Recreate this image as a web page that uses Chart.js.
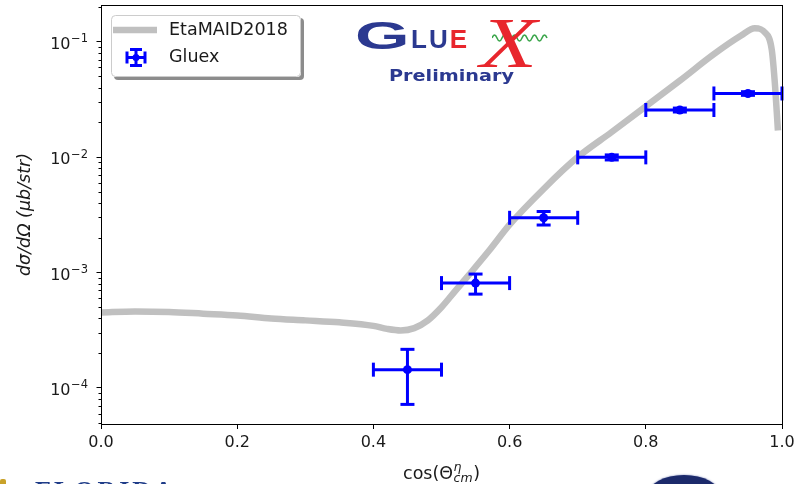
<!DOCTYPE html>
<html>
<head>
<meta charset="utf-8">
<script src="https://cdn.jsdelivr.net/npm/chart.js@4.4.1/dist/chart.umd.min.js"></script>
<style>
  html, body { margin: 0; padding: 0; background: #fff; overflow: hidden; }
  #wrap { position: relative; width: 795px; height: 484px; overflow: hidden; background: #fff; }
  #c { position: absolute; left: 0; top: 0; }
  .abs { position: absolute; white-space: nowrap; line-height: 1; }
  #lg-G { left: 355px; top: 14px; font: bold 39px "Liberation Sans", sans-serif; color: #2b3990; transform: scaleX(1.8); transform-origin: left top; }
  #lg-LUE { left: 411px; top: 24px; font: bold 26px "Liberation Sans", sans-serif; letter-spacing: 2px; }
  #lg-X { left: 480px; top: 2px; font: italic 72px "Liberation Serif", serif; color: #e8262d; transform: scaleX(1.3); transform-origin: left top; }
  #lg-wave { left: 492px; top: 32px; }
  #lg-pre { left: 389px; top: 66px; font: bold 16px "DejaVu Sans", sans-serif; color: #2b3990; transform: scaleX(1.2); transform-origin: left top; }
  #fsu { left: 35px; top: 476px; font: bold 26px "Liberation Serif", serif; color: #1f3c88; letter-spacing: 3px; }
  #fsu-gold { left: 0; top: 479px; width: 6px; height: 8px; background: #c9a22a; border-radius: 2px; }
  #seal { left: 648px; top: 475px; width: 72px; height: 40px; border-radius: 50%; background: #1c2a6b; box-shadow: 0 0 2px #6c78b0; }
</style>
</head>
<body>
<div id="wrap">
  <canvas id="c" width="795" height="484"></canvas>
  <div class="abs" id="lg-G">G</div>
  <div class="abs" id="lg-LUE"><span style="color:#2b3990">L</span><span style="color:#2b3990">U</span><span style="color:#e8262d">E</span></div>
  <svg class="abs" id="lg-wave" width="60" height="12" viewBox="0 0 60 12">
    <path d="M0 6 Q2.5 0 5 6 T10 6 T15 6 T20 6 T25 6 T30 6 T35 6 T40 6 T45 6 T50 6 T55 6" fill="none" stroke="#3aa54a" stroke-width="1.6"/>
  </svg>
  <div class="abs" id="lg-X">X</div>
  <div class="abs" id="lg-pre">Preliminary</div>
  <div class="abs" id="fsu-gold"></div>
  <div class="abs" id="fsu">FLORIDA</div>
  <div class="abs" id="seal"></div>
</div>
<script>
// EtaMAID2018 model curve: cos(theta) and dsigma/dOmega (ub/sr)
const modelCos   = [0.00, 0.05, 0.10, 0.15, 0.20, 0.25, 0.30, 0.35, 0.40, 0.42, 0.44, 0.46, 0.48, 0.50, 0.52, 0.54, 0.57, 0.60, 0.65, 0.70, 0.75, 0.80, 0.85, 0.90, 0.94, 0.96, 0.975, 0.985, 0.99, 0.994];
const modelXsec  = [4.5e-4, 4.6e-4, 4.55e-4, 4.4e-4, 4.25e-4, 4.0e-4, 3.85e-4, 3.7e-4, 3.45e-4, 3.25e-4, 3.15e-4, 3.3e-4, 3.85e-4, 5.0e-4, 6.9e-4, 9.5e-4, 1.55e-3, 2.6e-3, 5.3e-3, 1.0e-2, 1.65e-2, 2.75e-2, 4.6e-2, 7.8e-2, 0.113, 0.131, 0.12, 0.085, 0.04, 0.017];

// GlueX measurement: bin centres, bin half widths, cross sections and errors
const binCenters   = [0.45, 0.55, 0.65, 0.75, 0.85, 0.95];
const binHalfWidth = [0.05, 0.05, 0.05, 0.05, 0.05, 0.05];
const gluexXsec    = [1.44e-4, 8.1e-4, 2.98e-3, 9.95e-3, 2.56e-2, 3.56e-2];
const gluexErr     = [7.2e-5, 1.6e-4, 4.0e-4, 5.0e-4, 1.0e-3, 1.3e-3];

// axis ticks
const xTickValues = [0.0, 0.2, 0.4, 0.6, 0.8, 1.0];
const yDecades    = [-4, -3, -2, -1];

const seriesLabels = ['Gluex', 'EtaMAID2018'];

const BLUE = '#0000ff';
const SILVER = '#c0c0c0';
const TEXT = '#1a1a1a';

Chart.defaults.font.family = '"DejaVu Sans", sans-serif';
Chart.defaults.color = TEXT;

function line(ctx, x0, y0, x1, y1) {
  ctx.beginPath(); ctx.moveTo(x0, y0); ctx.lineTo(x1, y1); ctx.stroke();
}
function roundRect(ctx, x, y, w, h, r) {
  ctx.beginPath();
  ctx.moveTo(x + r, y);
  ctx.lineTo(x + w - r, y); ctx.quadraticCurveTo(x + w, y, x + w, y + r);
  ctx.lineTo(x + w, y + h - r); ctx.quadraticCurveTo(x + w, y + h, x + w - r, y + h);
  ctx.lineTo(x + r, y + h); ctx.quadraticCurveTo(x, y + h, x, y + h - r);
  ctx.lineTo(x, y + r); ctx.quadraticCurveTo(x, y, x + r, y);
  ctx.closePath();
}
function errorGlyph(ctx, cx, cy) {
  ctx.save();
  ctx.strokeStyle = BLUE; ctx.fillStyle = BLUE; ctx.lineWidth = 3;
  line(ctx, cx - 9, cy, cx + 9, cy);
  line(ctx, cx, cy - 8, cx, cy + 8);
  line(ctx, cx - 9, cy - 6, cx - 9, cy + 6);
  line(ctx, cx + 9, cy - 6, cx + 9, cy + 6);
  line(ctx, cx - 6, cy - 8, cx + 6, cy - 8);
  line(ctx, cx - 6, cy + 8, cx + 6, cy + 8);
  ctx.beginPath(); ctx.arc(cx, cy, 3.5, 0, Math.PI * 2); ctx.fill();
  ctx.restore();
}

// error bars drawn right after the model curve so that they sit above it, below the markers
const errorBars = {
  id: 'errorBars',
  afterDatasetDraw(chart, args) {
    if (args.index !== 1) return;
    const { ctx, scales: { x, y } } = chart;
    ctx.save();
    ctx.strokeStyle = BLUE;
    ctx.lineWidth = 3;
    const cap = 7;
    binCenters.forEach((c, i) => {
      const px = x.getPixelForValue(c);
      const x0 = x.getPixelForValue(c - binHalfWidth[i]);
      const x1 = x.getPixelForValue(c + binHalfWidth[i]);
      const py = y.getPixelForValue(gluexXsec[i]);
      const y0 = y.getPixelForValue(gluexXsec[i] + gluexErr[i]);
      const y1 = y.getPixelForValue(gluexXsec[i] - gluexErr[i]);
      line(ctx, x0, py, x1, py);
      line(ctx, px, y0, px, y1);
      line(ctx, x0, py - cap, x0, py + cap);
      line(ctx, x1, py - cap, x1, py + cap);
      line(ctx, px - cap, y0, px + cap, y0);
      line(ctx, px - cap, y1, px + cap, y1);
    });
    ctx.restore();
  }
};

// frame, minor ticks, log tick labels, x title and legend
const decorations = {
  id: 'decorations',
  afterDraw(chart) {
    const { ctx, chartArea: a, scales: { x, y } } = chart;
    ctx.save();
    // axes frame
    ctx.strokeStyle = '#000';
    ctx.lineWidth = 1;
    ctx.strokeRect(Math.round(a.left) + 0.5, Math.round(a.top) + 0.5, Math.round(a.right - a.left), Math.round(a.bottom - a.top));

    // minor ticks on the log axis
    for (let e = -5; e <= 0; e++) {
      for (let m = 2; m <= 9; m++) {
        const v = m * Math.pow(10, e);
        if (v < y.min || v > y.max) continue;
        const py = Math.round(y.getPixelForValue(v)) + 0.5;
        line(ctx, a.left - 2.5, py, a.left, py);
      }
    }

    // decade labels 10^k
    ctx.fillStyle = TEXT;
    const right = a.left - 13;
    yDecades.forEach(e => {
      const py = y.getPixelForValue(Math.pow(10, e));
      const sup = '\u2212' + Math.abs(e);
      ctx.font = '11.5px "DejaVu Sans"';
      const sw = ctx.measureText(sup).width;
      ctx.textAlign = 'left'; ctx.textBaseline = 'alphabetic';
      ctx.fillText(sup, right - sw, py + 0.5);
      ctx.font = '16px "DejaVu Sans"';
      ctx.textAlign = 'right';
      ctx.fillText('10', right - sw - 0.5, py + 7.2);
    });

    // x axis title: cos(Θ^η_cm)
    const fBig = '17.5px "DejaVu Sans"';
    const fSmall = 'italic 12.5px "DejaVu Sans"';
    const base = 478.5;
    ctx.font = fBig;
    const w1 = ctx.measureText('cos(\u0398').width;
    const w3 = ctx.measureText(')').width;
    ctx.font = fSmall;
    const wSup = ctx.measureText('\u03b7').width;
    const wSub = ctx.measureText('cm').width;
    const wMid = Math.max(wSup, wSub) + 1;
    const total = w1 + wMid + w3;
    const cx = (a.left + a.right) / 2 - total / 2;
    ctx.textAlign = 'left'; ctx.textBaseline = 'alphabetic';
    ctx.font = fBig; ctx.fillText('cos(\u0398', cx, base);
    ctx.font = fSmall;
    ctx.fillText('\u03b7', cx + w1 + 0.5, base - 8);
    ctx.fillText('cm', cx + w1 + 0.5, base + 3.5);
    ctx.font = fBig; ctx.fillText(')', cx + w1 + wMid, base);

    // legend
    const lx = 111, ly = 15, lw = 190, lh = 62;
    ctx.fillStyle = 'rgba(0,0,0,0.45)';
    roundRect(ctx, lx + 3, ly + 3, lw, lh, 4); ctx.fill();
    ctx.fillStyle = '#fff';
    roundRect(ctx, lx, ly, lw, lh, 4); ctx.fill();
    ctx.strokeStyle = '#cccccc'; ctx.lineWidth = 1;
    roundRect(ctx, lx + 0.5, ly + 0.5, lw - 1, lh - 1, 4); ctx.stroke();

    ctx.strokeStyle = SILVER; ctx.lineWidth = 6.5; ctx.lineCap = 'butt';
    line(ctx, 113, 30, 157, 30);
    errorGlyph(ctx, 136, 57.5);
    ctx.fillStyle = TEXT;
    ctx.font = '17.5px "DejaVu Sans"';
    ctx.textAlign = 'left'; ctx.textBaseline = 'middle';
    ctx.fillText(seriesLabels[1], 169, 30);
    ctx.fillText(seriesLabels[0], 169, 57.5);
    ctx.restore();
  }
};

new Chart(document.getElementById('c'), {
  type: 'scatter',
  data: {
    datasets: [
      {
        label: seriesLabels[0],
        data: binCenters.map((c, i) => ({ x: c, y: gluexXsec[i] })),
        pointRadius: 4.5,
        pointHoverRadius: 4.5,
        pointBackgroundColor: BLUE,
        pointBorderColor: BLUE,
        pointBorderWidth: 0,
        showLine: false
      },
      {
        label: seriesLabels[1],
        data: modelCos.map((c, i) => ({ x: c, y: modelXsec[i] })),
        showLine: true,
        borderColor: SILVER,
        borderWidth: 6.5,
        pointRadius: 0,
        cubicInterpolationMode: 'monotone',
        fill: false
      }
    ]
  },
  options: {
    responsive: false,
    animation: false,
    events: [],
    layout: { padding: { top: 5, right: 13, left: 0, bottom: 0 } },
    plugins: { legend: { display: false }, tooltip: { enabled: false } },
    scales: {
      x: {
        type: 'linear',
        min: 0, max: 1,
        afterBuildTicks(scale) { scale.ticks = xTickValues.map(v => ({ value: v })); },
        afterFit(scale) { scale.height = 60; scale.paddingRight = 0; scale.paddingLeft = 0; },
        ticks: { callback: v => v.toFixed(1), font: { size: 16 }, color: TEXT, padding: 4, maxRotation: 0 },
        grid: { drawOnChartArea: false, drawTicks: true, tickLength: 5, color: '#000', tickWidth: 1 },
        border: { color: '#000', width: 1 }
      },
      y: {
        type: 'logarithmic',
        min: 4.87e-5, max: 0.208,
        afterBuildTicks(scale) { scale.ticks = yDecades.map(e => ({ value: Math.pow(10, e) })); },
        afterFit(scale) { scale.width = 101; scale.paddingTop = 0; scale.paddingBottom = 0; },
        ticks: { display: false },
        grid: { drawOnChartArea: false, drawTicks: true, tickLength: 4.5, color: '#000', tickWidth: 1 },
        border: { color: '#000', width: 1 },
        title: { display: true, text: 'd\u03c3/d\u03a9 (\u03bcb/str)', font: { size: 17.5, style: 'italic' }, color: TEXT, padding: { top: 15, bottom: 0 } }
      }
    }
  },
  plugins: [errorBars, decorations]
});
</script>
</body>
</html>
